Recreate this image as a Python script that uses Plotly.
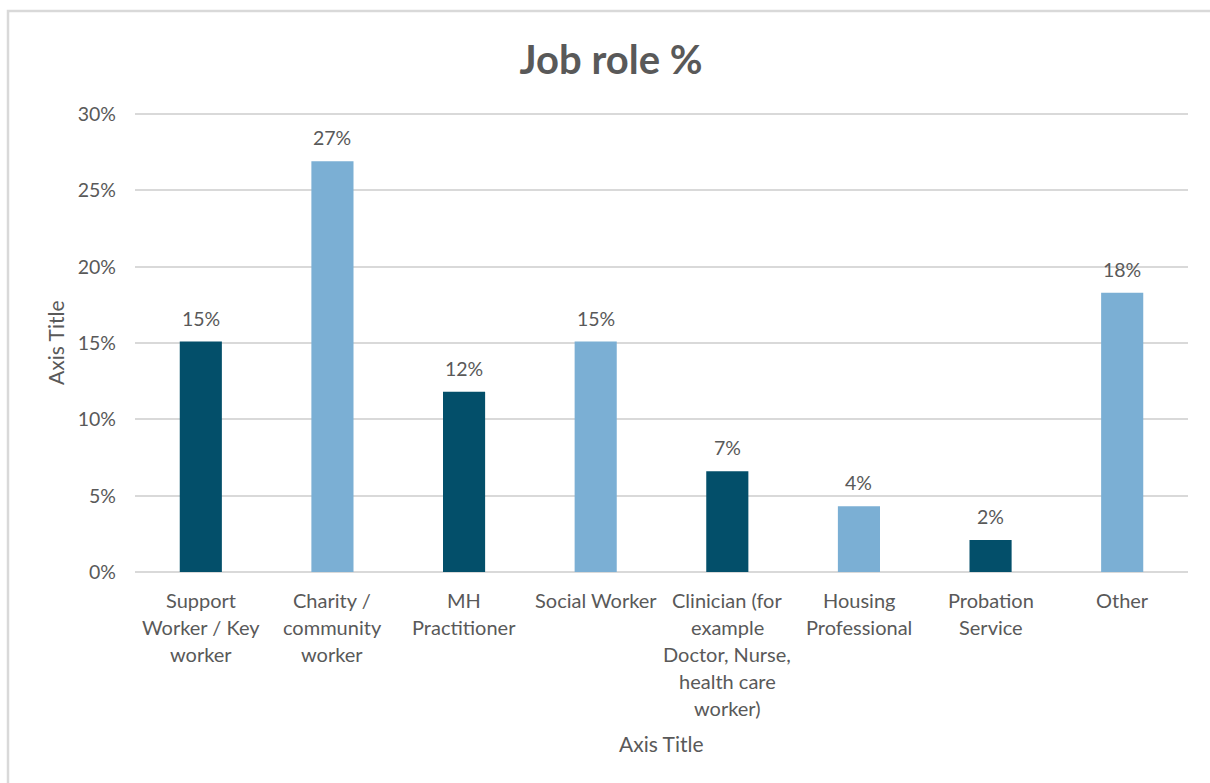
import plotly.graph_objects as go

# Survey results: share of respondents by job role
categories = [
    "Support Worker / Key worker",
    "Charity / community worker",
    "MH Practitioner",
    "Social Worker",
    "Clinician (for example Doctor, Nurse, health care worker)",
    "Housing Professional",
    "Probation Service",
    "Other",
]
tick_lines = [
    ["Support", "Worker / Key", "worker"],
    ["Charity /", "community", "worker"],
    ["MH", "Practitioner"],
    ["Social Worker"],
    ["Clinician (for", "example", "Doctor, Nurse,", "health care", "worker)"],
    ["Housing", "Professional"],
    ["Probation", "Service"],
    ["Other"],
]
values = [15.1, 26.9, 11.8, 15.1, 6.6, 4.3, 2.1, 18.3]
y_ticks = [0, 5, 10, 15, 20, 25, 30]
y_max = 30.2

DARK = "#034f6a"
LIGHT = "#7bafd4"
TEXT = "#595959"
GRID = "#d9d9d9"
FONT = "Lato"

W, H = 1210, 783
L, R, B = 135, 22, 211
T = 111
plot_w = W - L - R
plot_h = H - T - B

colors = [DARK if i % 2 == 0 else LIGHT for i in range(len(values))]

fig = go.Figure(
    go.Bar(
        x=categories,
        y=values,
        marker=dict(color=colors, line=dict(width=0)),
        width=0.32,
        hoverinfo="x+y",
    )
)

px_to_paper_x = lambda px: (px - L) / plot_w
px_to_paper_y = lambda py: (H - B - py) / plot_h

annotations = []
# value labels above each bar
for cat, v in zip(categories, values):
    annotations.append(dict(
        x=cat, y=v, xref="x", yref="y",
        text=f"{round(v)}%", showarrow=False,
        yanchor="bottom", yshift=10,
        font=dict(family=FONT, size=19.5, color=TEXT),
    ))
# multi-line category labels
for cat, lines in zip(categories, tick_lines):
    for i, line in enumerate(lines):
        annotations.append(dict(
            x=cat, y=0, xref="x", yref="paper",
            text=line, showarrow=False,
            yanchor="middle", yshift=-28 - 27 * i,
            font=dict(family=FONT, size=20, color=TEXT),
        ))
# axis titles
annotations.append(dict(
    x=0.5, y=px_to_paper_y(743), xref="paper", yref="paper",
    text="Axis Title", showarrow=False,
    xanchor="center", yanchor="middle",
    font=dict(family=FONT, size=21, color=TEXT),
))
annotations.append(dict(
    x=px_to_paper_x(55), y=px_to_paper_y(343), xref="paper", yref="paper",
    text="Axis Title", showarrow=False, textangle=-90,
    xanchor="center", yanchor="middle",
    font=dict(family=FONT, size=21, color=TEXT),
))

fig.update_layout(
    width=W, height=H,
    margin=dict(l=L, r=R, t=T, b=B, autoexpand=False),
    paper_bgcolor="white",
    plot_bgcolor="white",
    showlegend=False,
    title=dict(
        text="<b>Job role %</b>",
        x=611 / W, xref="container", xanchor="center",
        y=(H - 60) / H, yref="container", yanchor="middle",
        font=dict(family=FONT, size=40, color=TEXT),
    ),
    xaxis=dict(
        showticklabels=False,
        showgrid=False,
        showline=False,
        zeroline=False,
        ticks="",
    ),
    yaxis=dict(
        range=[0, y_max],
        tickvals=y_ticks,
        ticktext=[f"{t}%" for t in y_ticks],
        tickfont=dict(family=FONT, size=19.5, color=TEXT),
        ticklabelstandoff=18,
        showgrid=True,
        gridcolor=GRID,
        gridwidth=1.5,
        zeroline=True,
        zerolinecolor=GRID,
        zerolinewidth=1.5,
        showline=False,
        ticks="",
    ),
    annotations=annotations,
    shapes=[dict(
        type="rect", xref="paper", yref="paper",
        x0=px_to_paper_x(8), x1=px_to_paper_x(1220),
        y0=px_to_paper_y(795), y1=px_to_paper_y(11),
        line=dict(color=GRID, width=2.5),
        fillcolor="rgba(0,0,0,0)",
        layer="below",
    )],
)

fig.write_html("out.html")
